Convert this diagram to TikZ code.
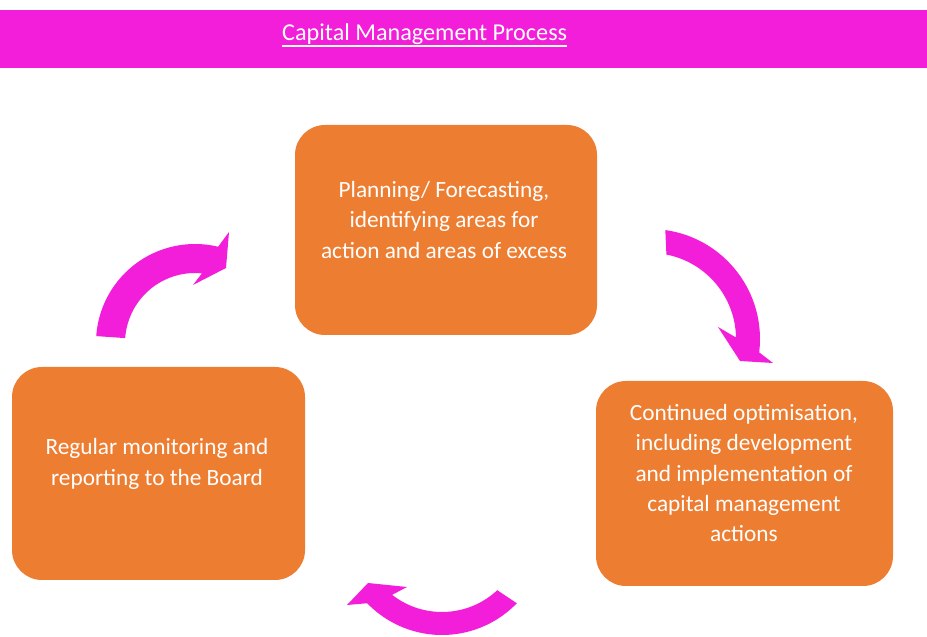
\documentclass[tikz,border=0pt]{standalone}
\usepackage{fontspec}
\setmainfont{Carlito}
\definecolor{barpink}{RGB}{242,30,218}
\definecolor{boxorange}{RGB}{237,125,49}
\begin{document}
\begin{tikzpicture}[x=1pt,y=1pt,
  stepbox/.style={rectangle, fill=boxorange, draw=none, rounded corners=30pt, inner sep=0pt},
  boxtext/.style={text=white, align=center, inner sep=0pt, font=\fontsize{23.3}{30.5}\selectfont},
  cyclearrow/.style={fill=barpink, draw=none}]
\useasboundingbox (0,0) rectangle (927,637);
% title bar
\fill[barpink] (0,569) rectangle (927,627);
\node[anchor=base west, inner sep=0pt, text=white, font=\fontsize{24.2}{28}\selectfont] (title) at (282,596) {Capital Management Process};
\draw[white, line width=1.6pt] ([yshift=-4.8pt]title.base west) -- ([yshift=-4.8pt]title.base east);
% boxes
\node[stepbox, minimum width=302pt, minimum height=210pt] (plan) at (446,407) {};
\node[stepbox, minimum width=293pt, minimum height=213pt] (monitor) at (158.5,163.5) {};
\node[stepbox, minimum width=297pt, minimum height=205pt] (optim) at (744.5,153.5) {};
\node[boxtext] (plantext) at (444,417) {Planning/ Forecasting,\\identifying areas for\\action and areas of excess};
\node[boxtext] (monitortext) at (157,173) {Regular monitoring and\\reporting to the Board};
\node[boxtext] (optimtext) at (744,164) {Continued optimisation,\\including development\\and implementation of\\capital management\\actions};
% curved arrows
\fill[cyclearrow] ([shift={(195,294)}]176:99) arc[start angle=176,end angle=76.5,radius=99]
  -- (229,405) -- (226,369) -- (193,352)
  -- ([shift={(195,294)}]84.3:70) arc[start angle=84.3,end angle=176,radius=70] -- cycle;
\fill[cyclearrow] ([shift={(650,298)}]82:110) arc[start angle=82,end angle=-7,radius=110]
  -- (773,274) -- (740,276) -- (718,310)
  -- ([shift={(650,298)}]1:86) arc[start angle=1,end angle=79,radius=86] -- cycle;
\fill[cyclearrow] ([shift={(442,106)}]-44:104) arc[start angle=-44,end angle=-136,radius=104]
  -- (347,32) -- (368,54) -- (407,50)
  -- ([shift={(442,106)}]-128:81) arc[start angle=-128,end angle=-47,radius=81] -- cycle;
\end{tikzpicture}
\end{document}
